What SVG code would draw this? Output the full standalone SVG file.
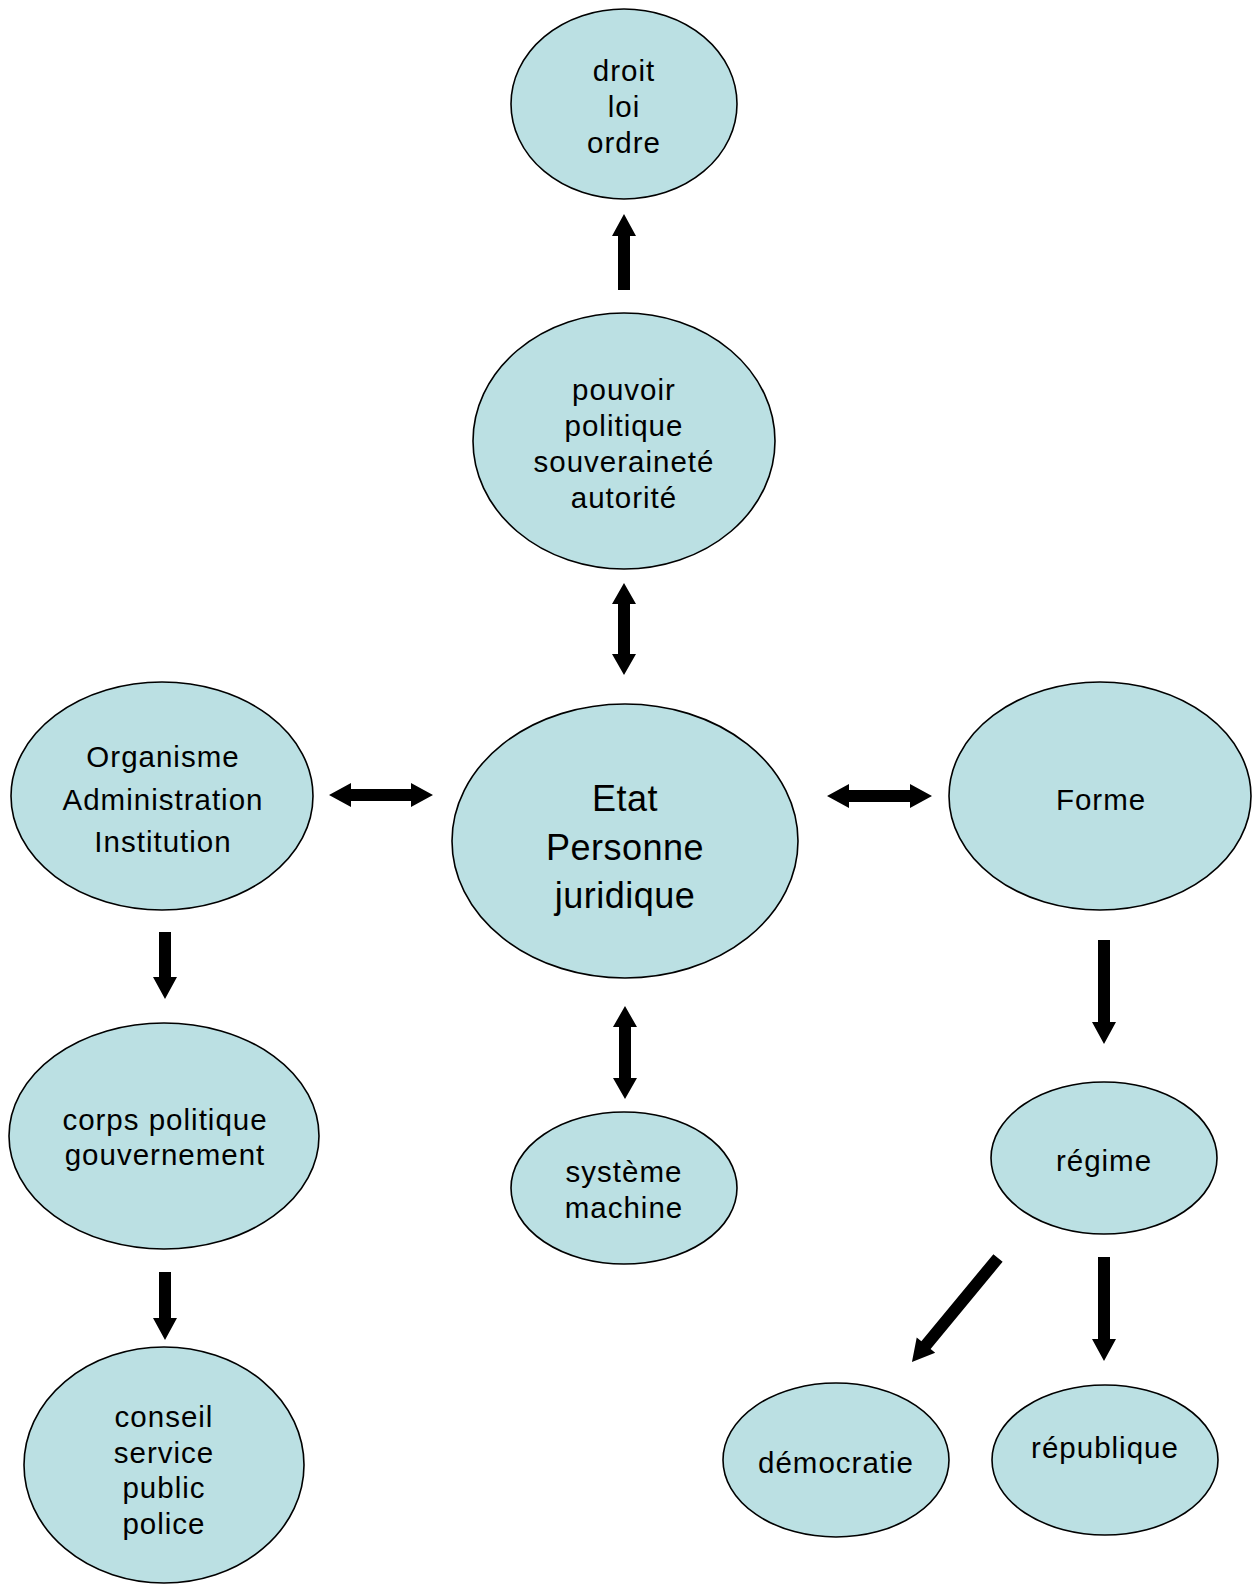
<svg xmlns="http://www.w3.org/2000/svg" width="1255" height="1584" viewBox="0 0 1255 1584">
<style>
.n ellipse{fill:#BBE0E3;stroke:#000;stroke-width:1.6}
.n text{font-family:"Liberation Sans",Arial,sans-serif;font-size:29.5px;letter-spacing:1px;fill:#000;text-anchor:middle}
.n text.big{font-size:36px;letter-spacing:0.5px}
#connectors path{fill:#000;stroke:none}
</style>
<rect width="1255" height="1584" fill="#fff"/>
<g id="droit" class="n">
<ellipse cx="624" cy="104" rx="113" ry="95"/>
<text x="624" y="81">droit</text>
<text x="624" y="117">loi</text>
<text x="624" y="153">ordre</text>
</g>
<g id="pouvoir" class="n">
<ellipse cx="624" cy="441" rx="151" ry="128"/>
<text x="624" y="400">pouvoir</text>
<text x="624" y="436">politique</text>
<text x="624" y="472">souveraineté</text>
<text x="624" y="508">autorité</text>
</g>
<g id="etat" class="n">
<ellipse cx="625" cy="841" rx="173" ry="137"/>
<text class="big" x="625" y="811">Etat</text>
<text class="big" x="625" y="860">Personne</text>
<text class="big" x="625" y="908">juridique</text>
</g>
<g id="organisme" class="n">
<ellipse cx="162" cy="796" rx="151" ry="114"/>
<text x="163" y="767">Organisme</text>
<text x="163" y="810">Administration</text>
<text x="163" y="852">Institution</text>
</g>
<g id="forme" class="n">
<ellipse cx="1100" cy="796" rx="151" ry="114"/>
<text x="1101" y="810">Forme</text>
</g>
<g id="corps" class="n">
<ellipse cx="164" cy="1136" rx="155" ry="113"/>
<text x="165" y="1130">corps politique</text>
<text x="165" y="1165">gouvernement</text>
</g>
<g id="conseil" class="n">
<ellipse cx="164" cy="1465" rx="140" ry="118"/>
<text x="164" y="1427">conseil</text>
<text x="164" y="1463">service</text>
<text x="164" y="1498">public</text>
<text x="164" y="1534">police</text>
</g>
<g id="systeme" class="n">
<ellipse cx="624" cy="1188" rx="113" ry="76"/>
<text x="624" y="1182">système</text>
<text x="624" y="1218">machine</text>
</g>
<g id="regime" class="n">
<ellipse cx="1104" cy="1158" rx="113" ry="76"/>
<text x="1104" y="1171">régime</text>
</g>
<g id="democratie" class="n">
<ellipse cx="836" cy="1460" rx="113" ry="77"/>
<text x="836" y="1473">démocratie</text>
</g>
<g id="republique" class="n">
<ellipse cx="1105" cy="1460" rx="113" ry="75"/>
<text x="1105" y="1458">république</text>
</g>
<g id="connectors">
<!-- up arrow pouvoir -> droit -->
<path d="M618,290 H630 V236 H636 L624,214 L612,236 H618 Z"/>
<!-- vertical double pouvoir <-> etat -->
<path d="M624,583 L636,604 H630 V654 H636 L624,675 L612,654 H618 V604 H612 Z"/>
<!-- left double -->
<path d="M329,795 L351,783 V789 H411 V783 L433,795 L411,807 V801 H351 V807 Z"/>
<!-- right double -->
<path d="M827,796 L849,784 V790 H910 V784 L932,796 L910,808 V802 H849 V808 Z"/>
<!-- organisme -> corps -->
<path d="M159,932 H171 V977 H177 L165,999 L153,977 H159 Z"/>
<!-- corps -> conseil -->
<path d="M159,1272 H171 V1318 H177 L165,1340 L153,1318 H159 Z"/>
<!-- vertical double etat <-> systeme -->
<path d="M625,1006 L637,1027 H631 V1078 H637 L625,1099 L613,1078 H619 V1027 H613 Z"/>
<!-- forme -> regime -->
<path d="M1098,940 H1110 V1022 H1116 L1104,1044 L1092,1022 H1098 Z"/>
<!-- regime -> democratie (diagonal) -->
<path transform="translate(998,1258) rotate(129.6)" d="M0,-6 H113 V-12 L135,0 L113,12 V6 H0 Z"/>
<!-- regime -> republique -->
<path d="M1098,1257 H1110 V1339 H1116 L1104,1361 L1092,1339 H1098 Z"/>
</g>
</svg>
